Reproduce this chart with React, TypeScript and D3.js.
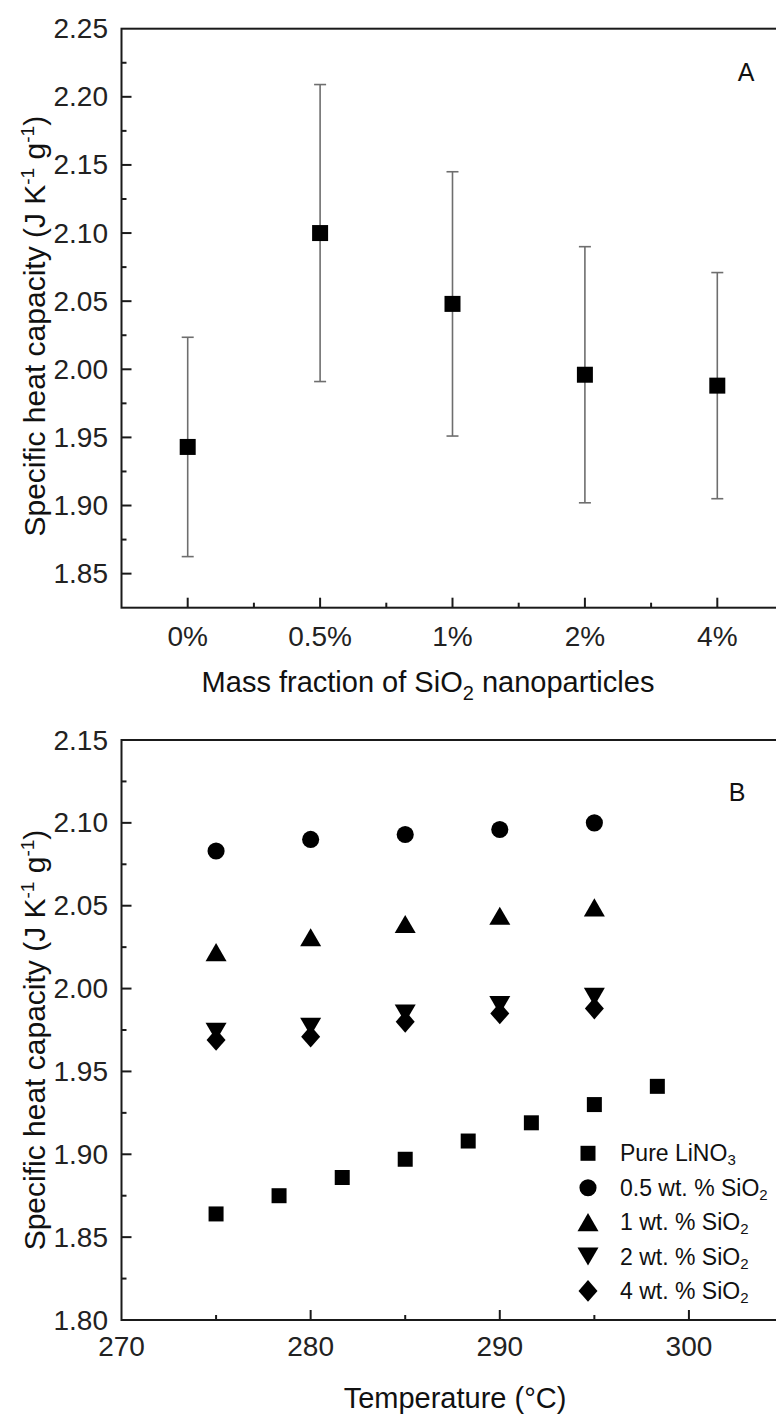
import React from "react";
import * as d3 from "d3";

// ---------- Data ----------
const catsA = ["0%", "0.5%", "1%", "2%", "4%"];
const cpA = [1.943, 2.1, 2.048, 1.996, 1.988];
const errA = [0.0805, 0.109, 0.097, 0.094, 0.083];
const yTicksA = [1.85, 1.9, 1.95, 2.0, 2.05, 2.1, 2.15, 2.2, 2.25];

const tempsPure = [275, 278.33, 281.67, 285, 288.33, 291.67, 295, 298.33];
const cpPure = [1.864, 1.875, 1.886, 1.897, 1.908, 1.919, 1.93, 1.941];
const temps = [275, 280, 285, 290, 295];
const cp05 = [2.083, 2.09, 2.093, 2.096, 2.1];
const cp1 = [2.022, 2.031, 2.039, 2.044, 2.049];
const cp2 = [1.974, 1.977, 1.985, 1.99, 1.995];
const cp4 = [1.969, 1.971, 1.98, 1.985, 1.988];
const xTicksB = [270, 280, 290, 300];
const yTicksB = [1.8, 1.85, 1.9, 1.95, 2.0, 2.05, 2.1, 2.15];

const legendNames = ["Pure LiNO", "0.5 wt. % SiO", "1 wt. % SiO", "2 wt. % SiO", "4 wt. % SiO"];
const legendSubs = ["3", "2", "2", "2", "2"];

// ---------- Style ----------
const FONT = "'Liberation Sans', Arial, sans-serif";
const TICK_FS = 28;
const TITLE_FS = 29;
const YTITLE_FS = 30;
const LEG_FS = 23;

// custom symbol types (centered on bounding box)
const triUp = {
  draw(ctx: any, size: number) {
    const w = Math.sqrt(size);
    const h = w * 0.86;
    ctx.moveTo(0, -h / 2);
    ctx.lineTo(w / 2, h / 2);
    ctx.lineTo(-w / 2, h / 2);
    ctx.closePath();
  },
};
const triDown = {
  draw(ctx: any, size: number) {
    const w = Math.sqrt(size);
    const h = w * 0.86;
    ctx.moveTo(0, h / 2);
    ctx.lineTo(w / 2, -h / 2);
    ctx.lineTo(-w / 2, -h / 2);
    ctx.closePath();
  },
};
const diamond = {
  draw(ctx: any, size: number) {
    const w = Math.sqrt(size);
    const h = w * 1.15;
    ctx.moveTo(0, -h / 2);
    ctx.lineTo(w / 2, 0);
    ctx.lineTo(0, h / 2);
    ctx.lineTo(-w / 2, 0);
    ctx.closePath();
  },
};

const symSquare = d3.symbol(d3.symbolSquare, 225)();
const symCircle = d3.symbol(d3.symbolCircle, 230)();
const symUp = d3.symbol(triUp as any, 441)();
const symDown = d3.symbol(triDown as any, 441)();
const symDiamond = d3.symbol(diamond as any, 361)();
const symSquareA = d3.symbol(d3.symbolSquare, 256)();

const legendSyms = [symSquare, symCircle, symUp, symDown, symDiamond];

function YTitle({ x, y }: { x: number; y: number }) {
  return (
    <text
      transform={`translate(${x},${y}) rotate(-90)`}
      textAnchor="middle"
      fontFamily={FONT}
      fontSize={YTITLE_FS}
      fill="#111"
    >
      Specific heat capacity (J K
      <tspan dy={-11} fontSize={19}>-1</tspan>
      <tspan dy={11}> g</tspan>
      <tspan dy={-11} fontSize={19}>-1</tspan>
      <tspan dy={11}>)</tspan>
    </text>
  );
}

export default function App() {
  const W = 776;
  const H = 1414;
  const left = 121.5;
  const right = 783.5;

  // Panel A scales
  const xA = d3.scaleLinear().domain([-0.5, 4.5]).range([left, right]);
  const yA = d3.scaleLinear().domain([1.825, 2.25]).range([607.7, 28.7]);
  // Panel B scales
  const xB = d3.scaleLinear().domain([270, 305]).range([left, right]);
  const yB = d3.scaleLinear().domain([1.8, 2.15]).range([1320, 740]);

  const minorA = d3.range(yTicksA.length - 1).map((i) => (yTicksA[i] + yTicksA[i + 1]) / 2);
  const minorAx = d3.range(catsA.length - 1).map((i) => i + 0.5);
  const minorB = d3.range(yTicksB.length - 1).map((i) => (yTicksB[i] + yTicksB[i + 1]) / 2);
  const minorBx = xTicksB.map((t) => t + 5);

  const seriesB = [
    { xs: tempsPure, ys: cpPure, sym: symSquare },
    { xs: temps, ys: cp05, sym: symCircle },
    { xs: temps, ys: cp1, sym: symUp },
    { xs: temps, ys: cp2, sym: symDown },
    { xs: temps, ys: cp4, sym: symDiamond },
  ];

  const axisColor = "#1a1a1a";

  return (
    <svg
      width={W}
      height={H}
      viewBox={`0 0 ${W} ${H}`}
      style={{ position: "absolute", left: 0, top: 0, background: "#fff" }}
    >
      <rect x={0} y={0} width={W} height={H} fill="#fff" />

      {/* ================= Panel A ================= */}
      <g>
        {catsA.map((c, i) => {
          const cx = xA(i);
          const y1 = yA(cpA[i] + errA[i]);
          const y2 = yA(cpA[i] - errA[i]);
          return (
            <g key={c} stroke="#6e6e6e" strokeWidth={1.6}>
              <line x1={cx} x2={cx} y1={y1} y2={y2} />
              <line x1={cx - 6} x2={cx + 6} y1={y1} y2={y1} />
              <line x1={cx - 6} x2={cx + 6} y1={y2} y2={y2} />
            </g>
          );
        })}
        {catsA.map((c, i) => (
          <path key={"m" + c} d={symSquareA!} transform={`translate(${xA(i)},${yA(cpA[i])})`} fill="#000" />
        ))}

        <rect
          x={left}
          y={yA(2.25)}
          width={right - left}
          height={yA(1.825) - yA(2.25)}
          fill="none"
          stroke={axisColor}
          strokeWidth={2}
        />
        {yTicksA.map((t) => (
          <g key={"ya" + t}>
            {t < 2.249 && (
              <line x1={left} x2={left + 10} y1={yA(t)} y2={yA(t)} stroke={axisColor} strokeWidth={2} />
            )}
            <text
              x={108}
              y={yA(t)}
              textAnchor="end"
              dominantBaseline="central"
              fontFamily={FONT}
              fontSize={TICK_FS}
              fill="#222"
            >
              {t.toFixed(2)}
            </text>
          </g>
        ))}
        {minorA.map((t) => (
          <line key={"yam" + t} x1={left} x2={left + 5} y1={yA(t)} y2={yA(t)} stroke={axisColor} strokeWidth={2} />
        ))}
        {catsA.map((c, i) => (
          <g key={"xa" + c}>
            <line x1={xA(i)} x2={xA(i)} y1={yA(1.825)} y2={yA(1.825) - 10} stroke={axisColor} strokeWidth={2} />
            <text
              x={xA(i)}
              y={636}
              textAnchor="middle"
              dominantBaseline="central"
              fontFamily={FONT}
              fontSize={TICK_FS}
              fill="#222"
            >
              {c}
            </text>
          </g>
        ))}
        {minorAx.map((t) => (
          <line key={"xam" + t} x1={xA(t)} x2={xA(t)} y1={yA(1.825)} y2={yA(1.825) - 5} stroke={axisColor} strokeWidth={2} />
        ))}
        <text x={428} y={692} textAnchor="middle" fontFamily={FONT} fontSize={TITLE_FS} fill="#111">
          Mass fraction of SiO
          <tspan dy={8} fontSize={20}>2</tspan>
          <tspan dy={-8}> nanoparticles</tspan>
        </text>
        <YTitle x={45} y={(yA(2.25) + yA(1.825)) / 2 + 8} />
        <text x={746} y={72} textAnchor="middle" dominantBaseline="central" fontFamily={FONT} fontSize={25} fill="#111">
          A
        </text>
      </g>

      {/* ================= Panel B ================= */}
      <g>
        {seriesB.map((s, si) =>
          s.xs.map((x, i) => (
            <path key={`b${si}-${i}`} d={s.sym!} transform={`translate(${xB(x)},${yB(s.ys[i])})`} fill="#000" />
          ))
        )}
        <rect
          x={left}
          y={yB(2.15)}
          width={right - left}
          height={yB(1.8) - yB(2.15)}
          fill="none"
          stroke={axisColor}
          strokeWidth={2}
        />
        {yTicksB.map((t) => (
          <g key={"yb" + t}>
            {t < 2.149 && t > 1.801 && (
              <line x1={left} x2={left + 10} y1={yB(t)} y2={yB(t)} stroke={axisColor} strokeWidth={2} />
            )}
            <text
              x={108}
              y={yB(t)}
              textAnchor="end"
              dominantBaseline="central"
              fontFamily={FONT}
              fontSize={TICK_FS}
              fill="#222"
            >
              {t.toFixed(2)}
            </text>
          </g>
        ))}
        {minorB.map((t) => (
          <line key={"ybm" + t} x1={left} x2={left + 5} y1={yB(t)} y2={yB(t)} stroke={axisColor} strokeWidth={2} />
        ))}
        {xTicksB.map((t) => (
          <g key={"xb" + t}>
            {t > 270 && (
              <line x1={xB(t)} x2={xB(t)} y1={yB(1.8)} y2={yB(1.8) - 10} stroke={axisColor} strokeWidth={2} />
            )}
            <text
              x={xB(t)}
              y={1346}
              textAnchor="middle"
              dominantBaseline="central"
              fontFamily={FONT}
              fontSize={TICK_FS}
              fill="#222"
            >
              {t}
            </text>
          </g>
        ))}
        {minorBx.map((t) => (
          <line key={"xbm" + t} x1={xB(t)} x2={xB(t)} y1={yB(1.8)} y2={yB(1.8) - 5} stroke={axisColor} strokeWidth={2} />
        ))}
        <text x={455} y={1398} textAnchor="middle" dominantBaseline="central" fontFamily={FONT} fontSize={TITLE_FS} fill="#111">
          Temperature (°C)
        </text>
        <YTitle x={45} y={(yB(2.15) + yB(1.8)) / 2 + 10} />
        <text x={737} y={792} textAnchor="middle" dominantBaseline="central" fontFamily={FONT} fontSize={25} fill="#111">
          B
        </text>

        {legendNames.map((n, i) => {
          const ly = 1153.3 + i * 34.4;
          return (
            <g key={"lg" + i}>
              <path d={legendSyms[i]!} transform={`translate(588,${ly})`} fill="#000" />
              <text x={620} y={ly} dominantBaseline="central" fontFamily={FONT} fontSize={LEG_FS} fill="#111">
                {n}
                <tspan dy={6} fontSize={15}>{legendSubs[i]}</tspan>
              </text>
            </g>
          );
        })}
      </g>
    </svg>
  );
}
